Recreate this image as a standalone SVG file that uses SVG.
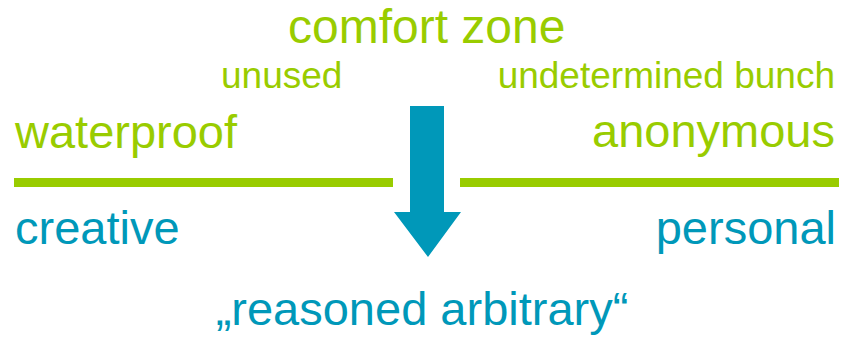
<svg xmlns="http://www.w3.org/2000/svg" width="843" height="339" viewBox="0 0 843 339">
<style>
text{font-family:"Liberation Sans",Arial,sans-serif}
.g{fill:#99cc00}
.b{fill:#0098b9}
.big{font-size:47px}
.sm{font-size:37px}
</style>
<rect width="843" height="339" fill="#fff"/>
<g id="connectors">
<rect x="14" y="178" width="379" height="9" fill="#99cc00"/>
<rect x="460" y="178" width="379" height="9" fill="#99cc00"/>
<polygon points="410,106 444,106 444,212 461,212 428,257 394,212 410,212" fill="#0098b9"/>
</g>
<g id="comfort"><text class="g" x="288" y="43" style="font-size:48px">comfort zone</text></g>
<g id="unused"><text class="g sm" x="221" y="88">unused</text></g>
<g id="bunch"><text class="g sm" x="835" y="88" text-anchor="end">undetermined bunch</text></g>
<g id="waterproof"><text class="g big" x="15" y="148">waterproof</text></g>
<g id="anonymous"><text class="g big" x="835" y="147" text-anchor="end">anonymous</text></g>
<g id="creative"><text class="b big" x="15" y="244">creative</text></g>
<g id="personal"><text class="b big" x="836" y="244" text-anchor="end">personal</text></g>
<g id="reasoned"><text class="b big" x="422" y="325" text-anchor="middle">„reasoned arbitrary“</text></g>
</svg>
